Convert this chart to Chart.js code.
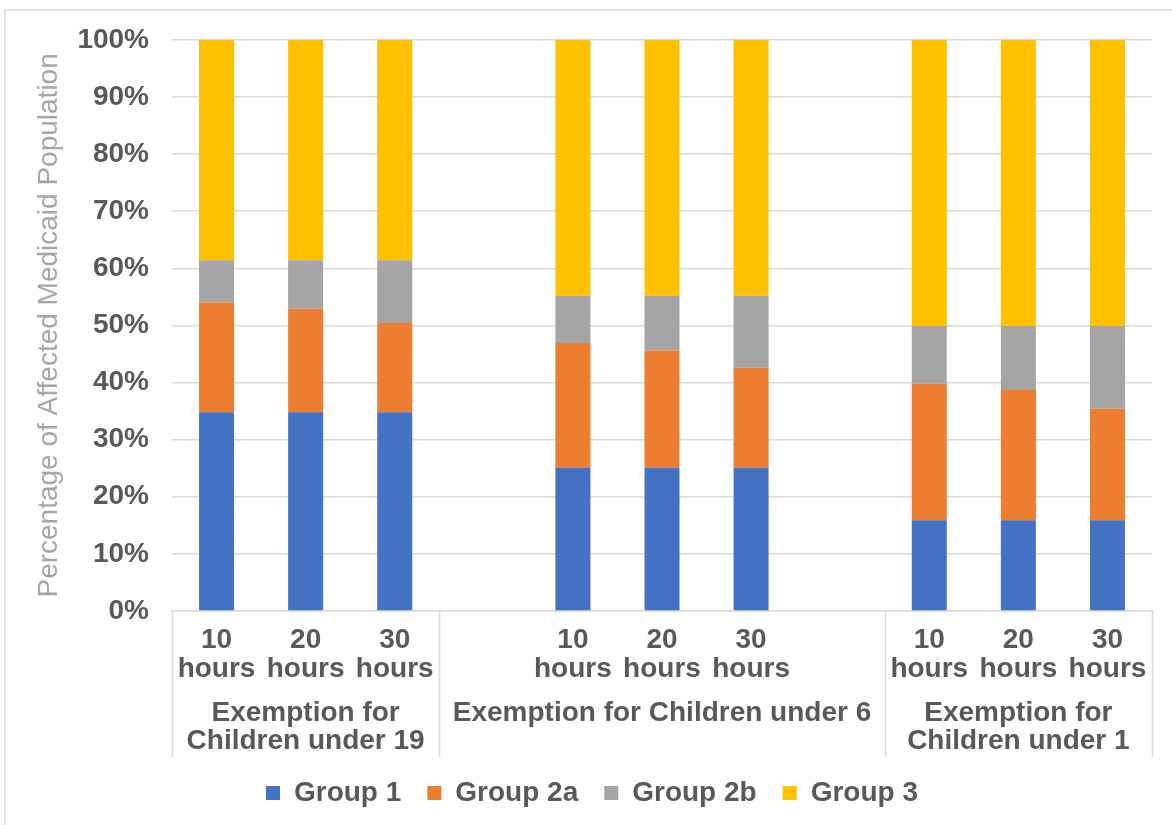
<!DOCTYPE html>
<html>
<head>
<meta charset="utf-8">
<script src="https://cdn.jsdelivr.net/npm/chart.js@4/dist/chart.umd.min.js"></script>
<style>
  body { margin: 0; background: #fff; }
  canvas { display: block; }
</style>
</head>
<body>
<canvas id="chart" width="1172" height="825"></canvas>
<script>
// one slot per bar, with empty slots between the exemption groups
var categories = [
    ["10", "hours"], ["20", "hours"], ["30", "hours"], "",
    ["10", "hours"], ["20", "hours"], ["30", "hours"], "",
    ["10", "hours"], ["20", "hours"], ["30", "hours"]
];
var groupLabels = [
    ["Exemption for", "Children under 19"],
    ["Exemption for Children under 6"],
    ["Exemption for", "Children under 1"]
];
var groupRanges = [[0, 2], [3, 7], [8, 10]];

var group1  = [34.8, 34.8, 34.8, null, 25.1, 25.1, 25.1, null, 15.9, 15.9, 15.9];
var group2a = [19.2, 18.1, 15.6, null, 21.8, 20.5, 17.5, null, 23.9, 22.8, 19.5];
var group2b = [7.4, 8.5, 11.0, null, 8.3, 9.6, 12.6, null, 10.1, 11.2, 14.5];
var group3  = [38.6, 38.6, 38.6, null, 44.8, 44.8, 44.8, null, 50.1, 50.1, 50.1];

var yTicks = [0, 10, 20, 30, 40, 50, 60, 70, 80, 90, 100];

var textColor = "#595959";
var lineColor = "#d9d9d9";
var fontFamily = "'Liberation Sans', Arial, sans-serif";

var frame = {
    id: 'frame',
    beforeDraw: function (chart) {
        var ctx = chart.ctx;
        ctx.save();
        ctx.fillStyle = "#fff";
        ctx.fillRect(0, 0, chart.width, chart.height);
        ctx.strokeStyle = lineColor;
        ctx.lineWidth = 1.5;
        ctx.strokeRect(5, 10, chart.width + 20, chart.height + 20);
        ctx.restore();
    },
    afterDraw: function (chart) {
        var ctx = chart.ctx;
        var xs = chart.scales.x;
        var top = chart.chartArea.bottom;
        ctx.save();
        ctx.strokeStyle = lineColor;
        ctx.lineWidth = 1.5;
        // divider lines between the groups
        var edges = [groupRanges[0][0] - 0.5];
        groupRanges.forEach(function (r) { edges.push(r[1] + 0.5); });
        edges.forEach(function (e) {
            var x = Math.round(xs.getPixelForValue(e)) + 0.5;
            ctx.beginPath();
            ctx.moveTo(x, top);
            ctx.lineTo(x, top + 146);
            ctx.stroke();
        });
        // group labels
        ctx.fillStyle = textColor;
        ctx.font = "bold 28px " + fontFamily;
        ctx.textAlign = "center";
        ctx.textBaseline = "alphabetic";
        groupLabels.forEach(function (lines, i) {
            var r = groupRanges[i];
            var cx = xs.getPixelForValue((r[0] + r[1]) / 2);
            lines.forEach(function (t, j) {
                ctx.fillText(t, cx, top + 110 + j * 28);
            });
        });
        ctx.restore();
    }
};

var ctx = document.getElementById('chart').getContext('2d');
var chart = new Chart(ctx, {
    type: 'bar',
    data: {
        labels: categories,
        datasets: [
            { label: "Group 1", data: group1, backgroundColor: "#4472C4" },
            { label: "Group 2a", data: group2a, backgroundColor: "#ED7D31" },
            { label: "Group 2b", data: group2b, backgroundColor: "#A5A5A5" },
            { label: "Group 3", data: group3, backgroundColor: "#FFC000" }
        ]
    },
    options: {
        responsive: false,
        animation: false,
        datasets: {
            bar: {
                categoryPercentage: 1,
                barPercentage: 0.393,
                borderWidth: 0
            }
        },
        layout: { padding: { top: 23, left: 32, right: 20, bottom: 8 } },
        plugins: {
            tooltip: { enabled: false },
            legend: {
                position: 'bottom',
                labels: {
                    color: textColor,
                    font: { family: fontFamily, size: 28, weight: 'bold' },
                    boxWidth: 14,
                    boxHeight: 14,
                    padding: 26
                }
            }
        },
        scales: {
            x: {
                stacked: true,
                grid: { display: false, drawTicks: false },
                border: { display: true, color: lineColor, width: 1.5 },
                ticks: {
                    color: textColor,
                    font: { family: fontFamily, size: 28, weight: 'bold', lineHeight: 1.04 },
                    padding: 15,
                    maxRotation: 0,
                    autoSkip: false
                },
                afterFit: function (scale) { scale.height = 142; }
            },
            y: {
                stacked: true,
                min: 0,
                max: 100,
                afterBuildTicks: function (scale) {
                    scale.ticks = yTicks.map(function (v) { return { value: v }; });
                },
                grid: { color: lineColor, lineWidth: 1.5, drawTicks: false },
                border: { display: false },
                ticks: {
                    color: textColor,
                    font: { family: fontFamily, size: 28, weight: 'bold' },
                    padding: 23,
                    callback: function (v) { return v + '%'; }
                },
                title: {
                    display: true,
                    text: "Percentage of Affected Medicaid Population",
                    color: "#a6a6a6",
                    font: { family: fontFamily, size: 28 },
                    padding: 0
                },
                afterFit: function (scale) { scale.width = 140; }
            }
        }
    },
    plugins: [frame]
});
</script>
</body>
</html>
